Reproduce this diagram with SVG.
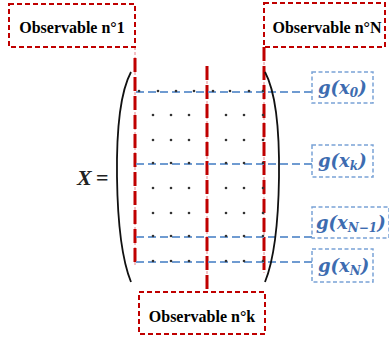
<svg xmlns="http://www.w3.org/2000/svg" width="389" height="340" viewBox="0 0 389 340">
<style>
.obs{fill:#fff;stroke:#c00000;stroke-width:2;stroke-dasharray:5 3}
.obst{font-family:"Liberation Serif",serif;font-weight:bold;font-size:16px;fill:#000}
.vthin{stroke:#e8838a;stroke-width:1;stroke-dasharray:3 2;fill:none}
.vthick{stroke:#c00000;stroke-width:3;stroke-dasharray:14 5;fill:none}
.hl{stroke:#6f9bd1;stroke-width:2;stroke-dasharray:8 4;fill:none}
.gb{fill:#fff;stroke:#7aa3d6;stroke-width:1.5;stroke-dasharray:4 2.5}
.gt{font-family:"DejaVu Serif","Liberation Serif",serif;font-style:italic;font-weight:bold;font-size:18px;fill:#3d6cb0}
.gs{font-size:12px}
.dot{fill:#333}
.par{fill:none;stroke:#111;stroke-width:1.8}
</style>
<g id="connectors">
<line class="vthin" x1="135" y1="47" x2="135" y2="266"/>
<line class="vthick" x1="135" y1="58" x2="135" y2="266"/>
<line class="vthin" x1="207" y1="66" x2="207" y2="292"/>
<line class="vthick" x1="207" y1="66" x2="207" y2="292"/>
<line class="vthin" x1="264" y1="47" x2="264" y2="273"/>
<line class="vthick" x1="264" y1="47" x2="264" y2="273"/>
<line class="hl" x1="136" y1="92" x2="312" y2="92"/>
<line class="hl" x1="136" y1="164" x2="312" y2="164"/>
<line class="hl" x1="136" y1="237" x2="312" y2="237"/>
<line class="hl" x1="136" y1="262" x2="312" y2="262"/>
</g>
<g id="matrix">
<text x="77" y="185" font-family="Liberation Serif,serif" font-weight="bold" font-style="italic" font-size="22" fill="#222">X</text>
<text x="96" y="185" font-family="Liberation Serif,serif" font-weight="bold" font-size="22" fill="#222">=</text>
<path class="par" d="M131,72 Q116,100 117,177 Q118,250 131,282"/>
<path class="par" d="M265,72 Q280,100 279,177 Q278,250 265,282"/>
<g class="dot">
<circle cx="139" cy="91" r="1.3"/><circle cx="158" cy="91" r="1.3"/><circle cx="176" cy="91" r="1.3"/><circle cx="194" cy="91" r="1.3"/><circle cx="213" cy="91" r="1.3"/><circle cx="230" cy="91" r="1.3"/><circle cx="249" cy="91" r="1.3"/><circle cx="263" cy="91" r="1.3"/>
<circle cx="153" cy="115" r="1.3"/><circle cx="171" cy="115" r="1.3"/><circle cx="189" cy="115" r="1.3"/><circle cx="226" cy="115" r="1.3"/><circle cx="244" cy="115" r="1.3"/><circle cx="263" cy="115" r="1.3"/>
<circle cx="153" cy="140" r="1.3"/><circle cx="171" cy="140" r="1.3"/><circle cx="189" cy="140" r="1.3"/><circle cx="226" cy="140" r="1.3"/><circle cx="244" cy="140" r="1.3"/><circle cx="263" cy="140" r="1.3"/>
<circle cx="153" cy="163" r="1.3"/><circle cx="171" cy="163" r="1.3"/><circle cx="189" cy="163" r="1.3"/><circle cx="226" cy="163" r="1.3"/><circle cx="244" cy="163" r="1.3"/><circle cx="263" cy="163" r="1.3"/>
<circle cx="153" cy="188" r="1.3"/><circle cx="171" cy="188" r="1.3"/><circle cx="189" cy="188" r="1.3"/><circle cx="226" cy="188" r="1.3"/><circle cx="244" cy="188" r="1.3"/><circle cx="263" cy="188" r="1.3"/>
<circle cx="153" cy="213" r="1.3"/><circle cx="171" cy="213" r="1.3"/><circle cx="189" cy="213" r="1.3"/><circle cx="226" cy="213" r="1.3"/><circle cx="244" cy="213" r="1.3"/><circle cx="263" cy="213" r="1.3"/>
<circle cx="153" cy="236" r="1.3"/><circle cx="171" cy="236" r="1.3"/><circle cx="189" cy="236" r="1.3"/><circle cx="226" cy="236" r="1.3"/><circle cx="244" cy="236" r="1.3"/><circle cx="263" cy="236" r="1.3"/>
<circle cx="153" cy="261" r="1.3"/><circle cx="171" cy="261" r="1.3"/><circle cx="189" cy="261" r="1.3"/><circle cx="226" cy="261" r="1.3"/><circle cx="244" cy="261" r="1.3"/><circle cx="263" cy="261" r="1.3"/>
</g>
</g>
<g id="obs1">
<rect class="obs" x="9" y="4" width="126" height="43"/>
<text class="obst" x="72" y="33" text-anchor="middle">Observable n°1</text>
</g>
<g id="obsN">
<rect class="obs" x="264" y="3" width="121" height="44"/>
<text class="obst" x="327" y="33" text-anchor="middle">Observable n°N</text>
</g>
<g id="obsK">
<rect class="obs" x="139" y="292" width="126" height="42"/>
<text class="obst" x="202" y="322" text-anchor="middle">Observable n°k</text>
</g>
<g id="g0">
<rect class="gb" x="312" y="72" width="61" height="31"/>
<text class="gt" x="318" y="94">g(x<tspan class="gs" dy="3">0</tspan><tspan dy="-3">)</tspan></text>
</g>
<g id="gk">
<rect class="gb" x="312" y="145" width="61" height="32"/>
<text class="gt" x="318" y="167">g(x<tspan class="gs" dy="3">k</tspan><tspan dy="-3">)</tspan></text>
</g>
<g id="gN1">
<rect class="gb" x="312" y="207" width="77" height="31"/>
<text class="gt" x="316" y="229">g(x<tspan class="gs" dy="3">N−1</tspan><tspan dy="-3">)</tspan></text>
</g>
<g id="gN">
<rect class="gb" x="312" y="249" width="61" height="33"/>
<text class="gt" x="318" y="272">g(x<tspan class="gs" dy="3">N</tspan><tspan dy="-3">)</tspan></text>
</g>
</svg>
